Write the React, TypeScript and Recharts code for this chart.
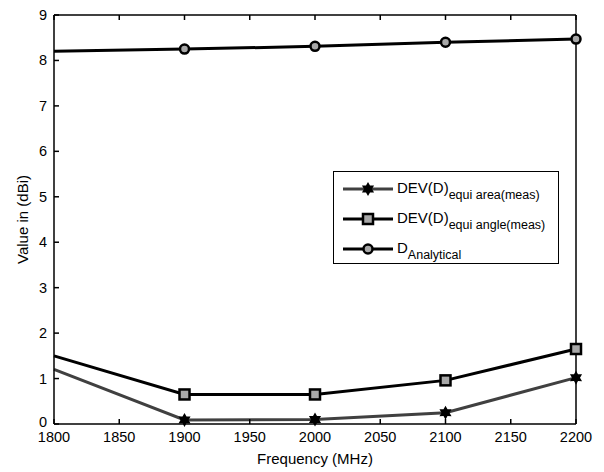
import React from "react";
import { LineChart, Line, XAxis, YAxis, Label } from "recharts";

const freqs = [1800, 1900, 2000, 2100, 2200];
const equiArea = [1.2, 0.09, 0.1, 0.25, 1.02];
const equiAngle = [1.5, 0.65, 0.65, 0.96, 1.65];
const analytical = [8.2, 8.25, 8.31, 8.4, 8.47];
const xTicks = [1800, 1850, 1900, 1950, 2000, 2050, 2100, 2150, 2200];
const yTicks = [0, 1, 2, 3, 4, 5, 6, 7, 8, 9];

const rows = freqs.map((f, i) => ({
  f,
  area: equiArea[i],
  angle: equiAngle[i],
  analytical: analytical[i],
}));

const FONT = "Arial, 'Liberation Sans', Helvetica, sans-serif";
const GRAY = "#a8a8a8";

function starPoints(cx: number, cy: number, ro: number, ri: number) {
  const pts: string[] = [];
  for (let k = 0; k < 12; k++) {
    const r = k % 2 === 0 ? ro : ri;
    const a = (Math.PI / 6) * k - Math.PI / 2;
    pts.push(`${cx + r * Math.cos(a)},${cy + r * Math.sin(a)}`);
  }
  return pts.join(" ");
}

// the reference draws no marker at the first (1800 MHz) point
const StarDot = (p: any) =>
  p.cx == null || p.index === 0 ? <g key={p.index} /> : (
    <polygon key={p.index} points={starPoints(p.cx, p.cy, 7, 4)} fill="#000" />
  );

const SquareDot = (p: any) =>
  p.cx == null || p.index === 0 ? <g key={p.index} /> : (
    <rect key={p.index} x={p.cx - 5} y={p.cy - 5} width={10} height={10} fill={GRAY} stroke="#000" strokeWidth={2.5} />
  );

const CircleDot = (p: any) =>
  p.cx == null || p.index === 0 ? <g key={p.index} /> : (
    <circle key={p.index} cx={p.cx} cy={p.cy} r={4.5} fill={GRAY} stroke="#000" strokeWidth={2.5} />
  );

const YTick = (p: any) => (
  <text x={p.x} y={p.y} dy={p.payload.value === 0 ? 3 : 5} textAnchor="end" fill="#000" fontSize={14.5} fontFamily={FONT}>
    {p.payload.value}
  </text>
);

function LegendIcon({ kind, color }: { kind: string; color: string }) {
  return (
    <svg width={50} height={16} style={{ display: "block" }}>
      <line x1={0} y1={8} x2={50} y2={8} stroke={color} strokeWidth={3} />
      {kind === "star" && <polygon points={starPoints(25, 8, 7, 4)} fill="#000" />}
      {kind === "square" && <rect x={20} y={3} width={10} height={10} fill={GRAY} stroke="#000" strokeWidth={2.5} />}
      {kind === "circle" && <circle cx={25} cy={8} r={4.5} fill={GRAY} stroke="#000" strokeWidth={2.5} />}
    </svg>
  );
}

const legendItems = [
  { kind: "star", color: "#404040", main: "DEV(D)", sub: "equi area(meas)" },
  { kind: "square", color: "#000", main: "DEV(D)", sub: "equi angle(meas)" },
  { kind: "circle", color: "#000", main: "D", sub: "Analytical" },
];

function LegendBox() {
  return (
    <div
      style={{
        position: "absolute",
        left: 333,
        top: 171,
        border: "1px solid #000",
        background: "#fff",
        width: 226,
        height: 93,
        boxSizing: "border-box",
        padding: "9px 0 0 9px",
        fontFamily: FONT,
      }}
    >
      {legendItems.map((it) => (
        <div key={it.sub} style={{ display: "flex", alignItems: "flex-start", height: 30 }}>
          <LegendIcon kind={it.kind} color={it.color} />
          <span style={{ marginLeft: 4, marginTop: -1, fontSize: 15, color: "#000", lineHeight: "16px", whiteSpace: "nowrap" }}>
            {it.main}
            <sub style={{ fontSize: 12.5, verticalAlign: "-6px" }}>{it.sub}</sub>
          </span>
        </div>
      ))}
    </div>
  );
}

export default function App() {
  return (
    <div style={{ position: "absolute", left: 0, top: 0, width: 604, height: 472, background: "#fff" }}>
      <LineChart width={604} height={472} data={rows} margin={{ top: 0, right: 0, left: 0, bottom: 0 }}>
        <XAxis
          xAxisId="b"
          dataKey="f"
          type="number"
          domain={[1800, 2200]}
          ticks={xTicks}
          height={48}
          tickSize={-5}
          tickMargin={13}
          stroke="#000"
          strokeWidth={1.5}
          tick={{ fill: "#000", fontSize: 14.5, fontFamily: FONT }}
          interval={0}
        >
          <Label value="Frequency (MHz)" position="insideBottom" offset={8} fill="#000" fontSize={15} fontFamily={FONT} />
        </XAxis>
        <XAxis
          xAxisId="t"
          orientation="top"
          dataKey="f"
          type="number"
          domain={[1800, 2200]}
          ticks={xTicks}
          height={15}
          tickSize={-5}
          tickFormatter={() => ""}
          stroke="#000"
          strokeWidth={1.5}
          interval={0}
        />
        <YAxis
          yAxisId="l"
          type="number"
          domain={[0, 9]}
          ticks={yTicks}
          width={54}
          tickSize={-5}
          tickMargin={12}
          stroke="#000"
          strokeWidth={1.5}
          tick={YTick}
          interval={0}
        >
          <Label value="Value in (dBi)" angle={-90} position="insideLeft" offset={23} fill="#000" fontSize={15} fontFamily={FONT} style={{ textAnchor: "middle" }} />
        </YAxis>
        <YAxis
          yAxisId="r"
          orientation="right"
          type="number"
          domain={[0, 9]}
          ticks={yTicks}
          width={28}
          tickSize={-5}
          tickFormatter={() => ""}
          stroke="#000"
          strokeWidth={1.5}
          interval={0}
        />
        <Line xAxisId="b" yAxisId="l" dataKey="area" stroke="#404040" strokeWidth={3} dot={StarDot} isAnimationActive={false} />
        <Line xAxisId="b" yAxisId="l" dataKey="angle" stroke="#000" strokeWidth={3} dot={SquareDot} isAnimationActive={false} />
        <Line xAxisId="b" yAxisId="l" dataKey="analytical" stroke="#000" strokeWidth={3} dot={CircleDot} isAnimationActive={false} />
      </LineChart>
      <LegendBox />
    </div>
  );
}
